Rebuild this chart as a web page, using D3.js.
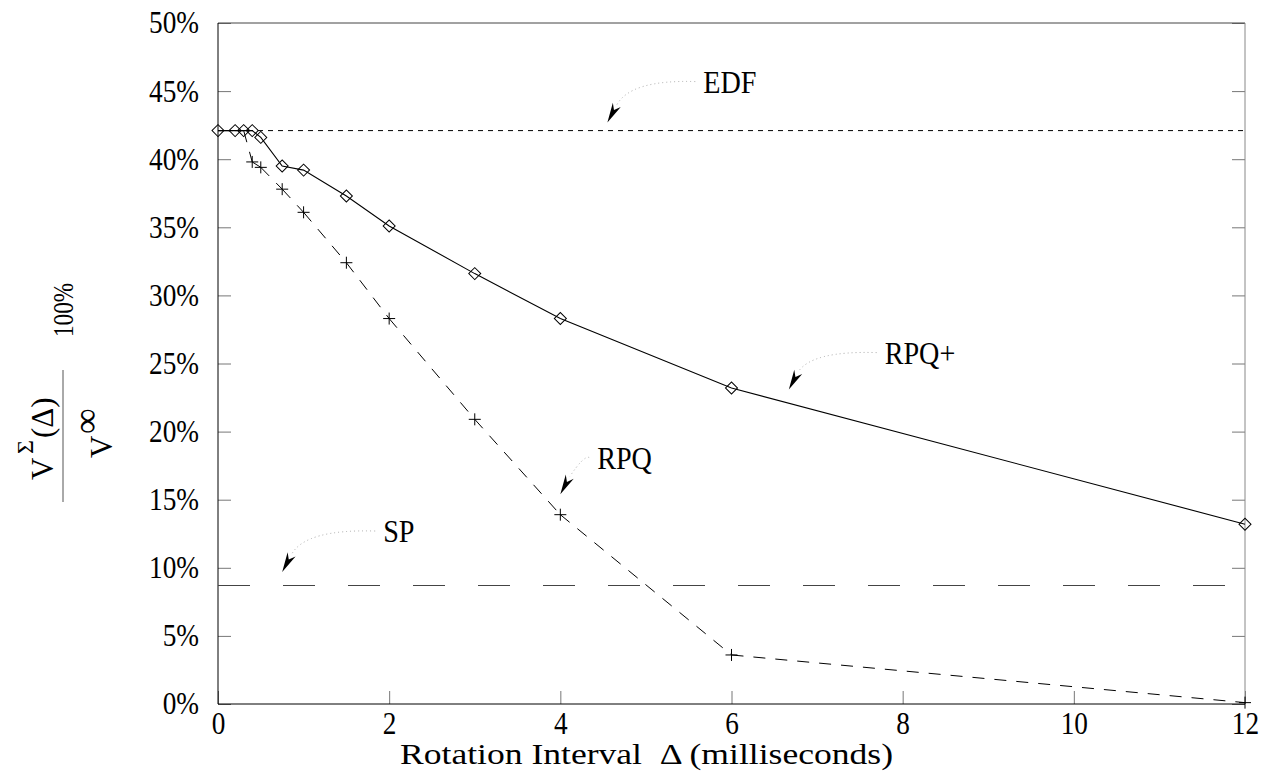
<!DOCTYPE html>
<html>
<head>
<meta charset="utf-8">
<script src="https://cdn.jsdelivr.net/npm/d3@7"></script>
<style>
  body { margin: 0; background: #fff; }
  text { font-family: "Liberation Serif", "Times New Roman", serif; fill: #000; }
</style>
</head>
<body>
<script>
// rotation interval (ms) and the two measured series (% of V-infinity)
var intervals = [0, 0.2, 0.3, 0.4, 0.5, 0.75, 1, 1.5, 2, 3, 4, 6, 12];
var rpqPlus   = [42.1, 42.1, 42.1, 42.1, 41.6, 39.5, 39.2, 37.3, 35.1, 31.6, 28.3, 23.2, 13.2];
var rpq       = [42.1, 42.1, 42.1, 39.8, 39.4, 37.8, 36.1, 32.4, 28.3, 20.9, 13.9, 3.6, 0.1];
var edfLevel = 42.1;
var spLevel = 8.7;

var xTicks = [0, 2, 4, 6, 8, 10, 12];
var yTicks = [0, 5, 10, 15, 20, 25, 30, 35, 40, 45, 50];
var yTickLabels = ["0%", "5%", "10%", "15%", "20%", "25%", "30%", "35%", "40%", "45%", "50%"];

// annotation labels: arrow tip and label position, in data units
var noteNames = ["EDF", "RPQ+", "RPQ", "SP"];
var noteTips = [[4.55, 42.7], [6.67, 23.1], [4.0, 15.4], [0.75, 9.7]];
var noteAt = [[5.67, 45.7], [7.79, 25.8], [4.43, 18.1], [1.93, 12.7]];

var W = 1264, H = 773;
var pLeft = 218, pTop = 23, pRight = 1245, pBottom = 704;
var squeeze = 0.88; // reference glyphs are narrow and tall

var svg = d3.select("body").append("svg")
  .attr("width", W)
  .attr("height", H);

var x = d3.scaleLinear().domain([0, 12]).range([pLeft, pRight]);
var y = d3.scaleLinear().domain([0, 50]).range([pBottom, pTop]);

// ticks (inward) on left, right and bottom
var yAxis = svg.append("g")
  .attr("transform", "translate(" + pLeft + ",0)")
  .call(d3.axisLeft(y).tickValues(yTicks).tickSizeInner(-13).tickSizeOuter(0).tickPadding(19)
    .tickFormat(function(d, i) { return yTickLabels[i]; }));
yAxis.select(".domain").remove();
yAxis.selectAll("line").attr("stroke", "#777");
yAxis.selectAll("text")
  .attr("font-size", 31).attr("font-family", null)
  .attr("x", -19 / squeeze)
  .attr("transform", "scale(" + squeeze + ",1)");

var yAxisR = svg.append("g")
  .attr("transform", "translate(" + pRight + ",0)")
  .call(d3.axisRight(y).tickValues(yTicks).tickSizeInner(-13).tickSizeOuter(0).tickFormat(""));
yAxisR.select(".domain").remove();
yAxisR.selectAll("line").attr("stroke", "#777");

var xAxis = svg.append("g")
  .attr("transform", "translate(0," + pBottom + ")")
  .call(d3.axisBottom(x).tickValues(xTicks).tickSizeInner(-13).tickSizeOuter(0).tickPadding(8));
xAxis.select(".domain").remove();
xAxis.selectAll("line").attr("stroke", "#777");
xAxis.selectAll("text")
  .attr("font-size", 31).attr("font-family", null)
  .attr("transform", "scale(" + squeeze + ",1)");

// frame
svg.append("line").attr("x1", pLeft).attr("x2", pRight).attr("y1", pTop).attr("y2", pTop).attr("stroke", "#444");
svg.append("line").attr("x1", pRight).attr("x2", pRight).attr("y1", pTop).attr("y2", pBottom).attr("stroke", "#888");
svg.append("line").attr("x1", pLeft).attr("x2", pLeft).attr("y1", pTop).attr("y2", pBottom).attr("stroke", "#000");
svg.append("line").attr("x1", pLeft).attr("x2", pRight).attr("y1", pBottom).attr("y2", pBottom).attr("stroke", "#000");

// EDF and SP reference levels
svg.append("line")
  .attr("x1", x(0)).attr("x2", x(12)).attr("y1", y(edfLevel)).attr("y2", y(edfLevel))
  .attr("stroke", "#000").attr("stroke-dasharray", "5,5");
svg.append("line")
  .attr("x1", x(0)).attr("x2", x(12)).attr("y1", y(spLevel)).attr("y2", y(spLevel))
  .attr("stroke", "#444").attr("stroke-dasharray", "32,33");

var line = d3.line()
  .x(function(d) { return x(d[0]); })
  .y(function(d) { return y(d[1]); });

// RPQ+ solid line with diamonds
var plusPts = intervals.map(function(v, i) { return [v, rpqPlus[i]]; });
svg.append("path").attr("d", line(plusPts)).attr("fill", "none").attr("stroke", "#000").attr("stroke-width", 1.1);
svg.selectAll(".diamond").data(plusPts).enter().append("path")
  .attr("class", "diamond")
  .attr("d", d3.symbol(d3.symbolSquare, 72))
  .attr("transform", function(d) { return "translate(" + x(d[0]) + "," + y(d[1]) + ") rotate(45)"; })
  .attr("fill", "none").attr("stroke", "#000");

// RPQ dashed line (dash restarts at every point) with plus marks
var rpqPts = intervals.map(function(v, i) { return [v, rpq[i]]; });
var segs = d3.pairs(rpqPts);
svg.selectAll(".seg").data(segs).enter().append("path")
  .attr("class", "seg")
  .attr("d", function(d) { return line(d); })
  .attr("fill", "none").attr("stroke", "#000").attr("stroke-dasharray", "12,10");
svg.selectAll(".cross").data(rpqPts.slice(3)).enter().append("path")
  .attr("class", "cross")
  .attr("d", "M-6,0H6M0,-6V6")
  .attr("transform", function(d) { return "translate(" + x(d[0]) + "," + y(d[1]) + ")"; })
  .attr("fill", "none").attr("stroke", "#000");

// annotations: dotted curve + arrowhead + label
var ux = -0.47, uy = 0.88, alen = 20, ahw = 4.5;
noteNames.forEach(function(name, i) {
  var tx = x(noteTips[i][0]), ty = y(noteTips[i][1]);
  var lx = x(noteAt[i][0]), ly = y(noteAt[i][1]);
  var bx = tx - alen * ux, by = ty - alen * uy;
  var sx = lx - 8, sy = ly;
  svg.append("path")
    .attr("d", "M" + sx + "," + sy + "Q" + (bx + 14) + "," + (sy - 2) + " " + bx + "," + by)
    .attr("fill", "none").attr("stroke", "#aaa").attr("stroke-dasharray", "1,3");
  var px = -uy, py = ux;
  var nx = bx + 6 * ux, ny = by + 6 * uy;
  svg.append("path")
    .attr("d", "M" + tx + "," + ty +
      "L" + (bx + ahw * px) + "," + (by + ahw * py) +
      "L" + nx + "," + ny +
      "L" + (bx - ahw * px) + "," + (by - ahw * py) + "Z")
    .attr("fill", "#000");
  svg.append("text")
    .attr("x", lx / squeeze).attr("y", ly).attr("dy", "0.35em")
    .attr("font-size", 32)
    .attr("transform", "scale(" + squeeze + ",1)")
    .text(name);
});

// x axis title
svg.append("text")
  .attr("x", 400).attr("y", 764)
  .attr("font-size", 29)
  .attr("textLength", 493).attr("lengthAdjust", "spacingAndGlyphs")
  .text("Rotation Interval \u00a0\u0394 (milliseconds)");

// y axis title: V^Σ(Δ) / V^∞  100%, rotated
var yl = svg.append("g").attr("transform", "translate(63,436) rotate(-90)");
yl.append("line").attr("x1", -66).attr("x2", 66).attr("y1", 0).attr("y2", 0).attr("stroke", "#555");
yl.append("text").attr("x", -44).attr("y", -10).attr("font-size", 31).text("V");
yl.append("text").attr("x", -18).attr("y", -30).attr("font-size", 24).text("\u03a3");
yl.append("text").attr("x", -2).attr("y", -10).attr("font-size", 31).text("(\u0394)");
yl.append("text").attr("x", -22).attr("y", 49).attr("font-size", 31).text("V");
yl.append("text").attr("x", 2).attr("y", 35).attr("font-size", 36).text("\u221e");
yl.append("text").attr("x", 99 / 0.8).attr("y", 10).attr("font-size", 29)
  .attr("transform", "scale(0.8,1)").text("100%");
</script>
</body>
</html>
